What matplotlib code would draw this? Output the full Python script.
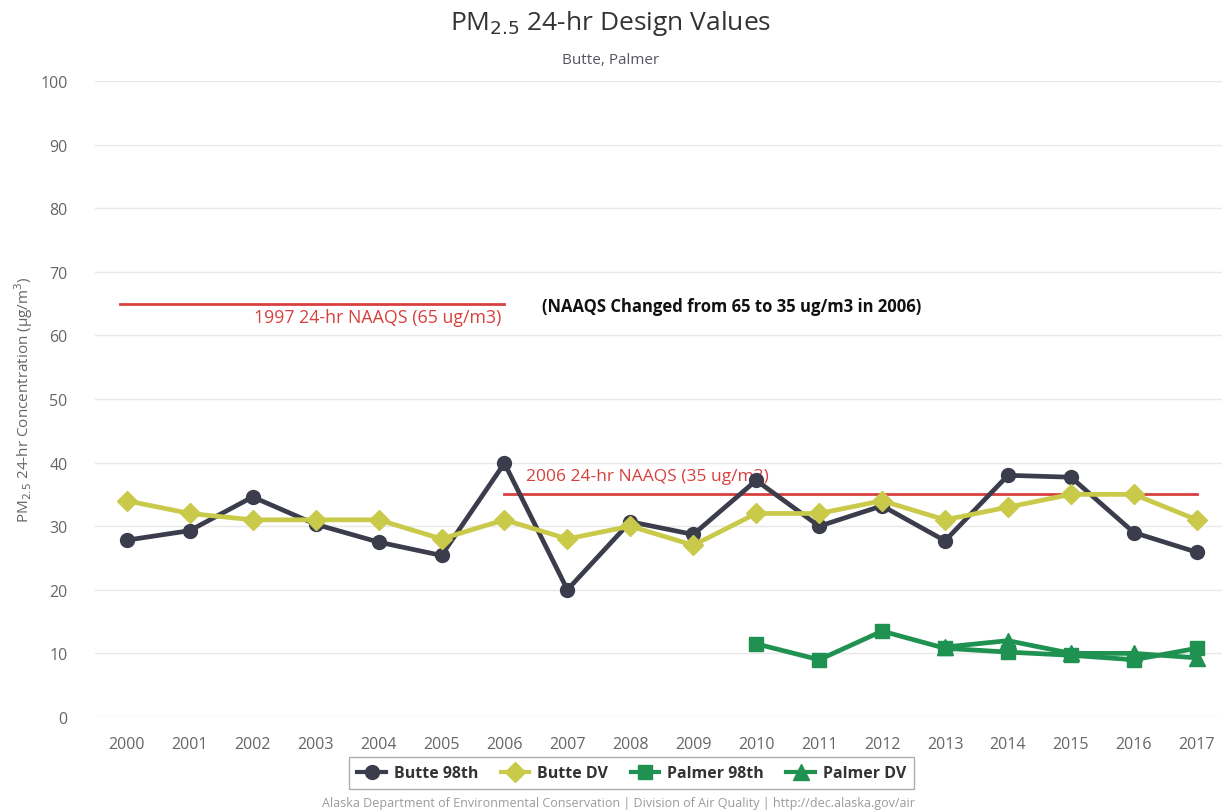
import matplotlib
matplotlib.use("Agg")
import matplotlib.pyplot as plt
from matplotlib.lines import Line2D

plt.rcParams['font.family'] = ['Open Sans', 'DejaVu Sans']

# ── data ────────────────────────────────────────────────────────────────
years = list(range(2000, 2018))
butte_98th = [27.8, 29.3, 34.6, 30.3, 27.5, 25.4, 39.9, 20.0, 30.7, 28.7,
              37.2, 30.0, 33.2, 27.7, 38.0, 37.7, 29.0, 25.9]
butte_dv = [34, 32, 31, 31, 31, 28, 31, 28, 30, 27,
            32, 32, 34, 31, 33, 35, 35, 31]
palmer_years = list(range(2010, 2018))
palmer_98th = [11.5, 9.0, 13.5, 10.8, 10.2, 9.7, 9.0, 10.8]
palmer_dv_years = list(range(2013, 2018))
palmer_dv = [11, 12, 10, 10, 9.3]

naaqs_1997 = 65
naaqs_2006 = 35

C_BLACK = '#3b3d4c'
C_YELLOW = '#c9c94a'
C_GREEN = '#1f9151'
C_RED = '#d8403e'
C_TXT = '#666666'

fig = plt.figure(figsize=(12.22, 8.12), dpi=100)
ax = fig.add_axes([0.078, 0.1158, 0.922, 0.7832])

# reference lines
ax.plot([1999.9, 2006], [naaqs_1997] * 2, color=C_RED, lw=2, zorder=2)
ax.plot([2006, 2017], [naaqs_2006] * 2, color=C_RED, lw=2, zorder=2)
ax.text(2005.95, 62.9, '1997 24-hr NAAQS (65 ug/m3)', color=C_RED, fontsize=12.8,
        ha='right', va='center')
ax.text(2006.35, 37.9, '2006 24-hr NAAQS (35 ug/m3)', color=C_RED, fontsize=12.5,
        ha='left', va='center', zorder=3)
ax.text(2006.6, 64.7, '(NAAQS Changed from 65 to 35 ug/m3 in 2006)', color='#111111',
        fontsize=12, fontweight='bold', ha='left', va='center')

# series
ax.plot(years, butte_98th, color=C_BLACK, lw=3.4, marker='o', ms=10, zorder=4,
        label='Butte 98th')
ax.plot(years, butte_dv, color=C_YELLOW, lw=3.4, marker='D', ms=10, zorder=5,
        label='Butte DV')
ax.plot(palmer_years, palmer_98th, color=C_GREEN, lw=3.4, marker='s', ms=10, zorder=4,
        label='Palmer 98th')
ax.plot(palmer_dv_years, palmer_dv, color=C_GREEN, lw=3.4, marker='^', ms=11, zorder=4,
        label='Palmer DV')

ax.set_xlim(1999.5, 2017.4)
ax.set_ylim(0, 100)
ax.set_xticks(years)
ax.set_yticks(range(0, 101, 10))
ax.tick_params(axis='both', length=0, labelcolor=C_TXT, labelsize=11.5)
ax.tick_params(axis='y', pad=20)
ax.tick_params(axis='x', pad=14)
ax.grid(axis='y', color='#e8e8e8', lw=1)
for s in ax.spines.values():
    s.set_visible(False)

ax.set_ylabel('PM$_{2.5}$ 24-hr Concentration (µg/m$^3$)', color=C_TXT, fontsize=11,
              labelpad=4)

fig.text(0.5, 0.971, 'PM$_{2.5}$ 24-hr Design Values', ha='center', va='center',
         fontsize=19, color='#333333')
fig.text(0.5, 0.926, 'Butte, Palmer', ha='center', va='center', fontsize=11,
         color='#555566')

handles = [Line2D([], [], color=C_BLACK, lw=3, marker='o', ms=10),
           Line2D([], [], color=C_YELLOW, lw=3, marker='D', ms=10),
           Line2D([], [], color=C_GREEN, lw=3, marker='s', ms=10),
           Line2D([], [], color=C_GREEN, lw=3, marker='^', ms=11)]
labels = ['Butte 98th', 'Butte DV', 'Palmer 98th', 'Palmer DV']
leg = fig.legend(handles, labels, loc='center', bbox_to_anchor=(0.517, 0.0465), ncol=4,
                 frameon=True, fancybox=False, edgecolor='#999999',
                 prop={'weight': 'bold', 'size': 11.5}, handlelength=1.8,
                 columnspacing=1.4, handletextpad=0.5, borderpad=0.5)
for t in leg.get_texts():
    t.set_color('#333333')

fig.text(0.506, 0.011, 'Alaska Department of Environmental Conservation | Division of Air Quality | http://dec.alaska.gov/air',
         ha='center', va='center', fontsize=9, color='#9a9a9a')

fig.savefig('out.png', dpi=100)
